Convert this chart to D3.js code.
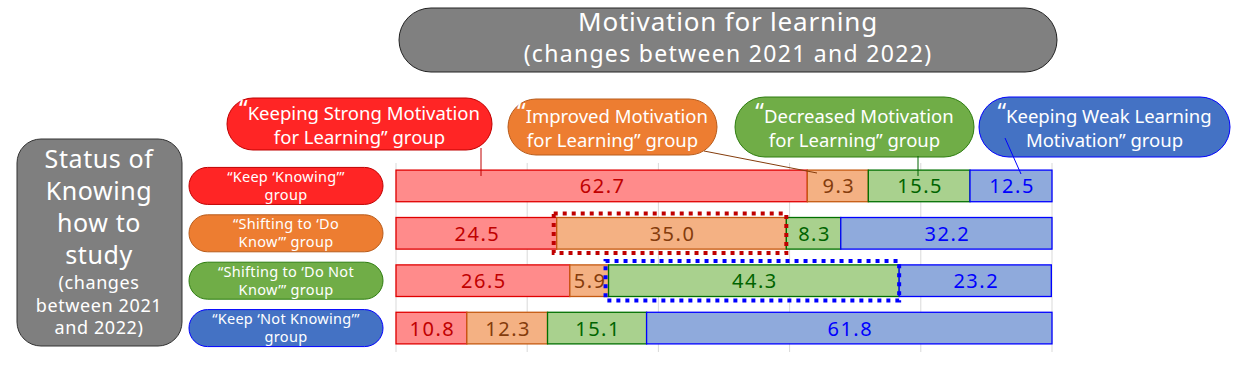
<!DOCTYPE html>
<meta charset="utf-8">
<head>
  <title>Motivation for learning</title>
</head>
<style>
body { margin: 0; background: #fff; }
svg text { font-family: "Noto Sans", sans-serif; }
.grid line { stroke: #d9d9d9; stroke-width: 1px; }
.seg { stroke-width: 1.3px; }
.val { font-size: 20px; letter-spacing: 1.5px; text-anchor: middle; dominant-baseline: central; }
</style>
<body>
  <svg width="1234" height="386"></svg>
  <script src="https://cdnjs.cloudflare.com/ajax/libs/d3/7.8.5/d3.min.js"></script>
  <script>
// categories (rows) -- status of knowing how to study
var rows = ["keep", "toDo", "toNot", "notKnow"];
var rowLabels = [
  ["\u201cKeep \u2018Knowing\u2019\u201d", "group"],
  ["\u201cShifting to \u2018Do", "Know\u2019\u201d group"],
  ["\u201cShifting to \u2018Do Not", "Know\u2019\u201d group"],
  ["\u201cKeep \u2018Not Knowing\u2019\u201d", "group"]
];

// series -- motivation for learning groups
var seriesKeys = ["strong", "improved", "decreased", "weak"];
var seriesLabels = [
  ["Keeping Strong Motivation", "for Learning\u201d group"],
  ["Improved Motivation", "for Learning\u201d group"],
  ["Decreased Motivation", "for Learning\u201d group"],
  ["Keeping Weak Learning", "Motivation\u201d group"]
];

// values in %, one per row
var strong    = [62.7, 24.5, 26.5, 10.8];
var improved  = [9.3, 35.0, 5.9, 12.3];
var decreased = [15.5, 8.3, 44.3, 15.1];
var weak      = [12.5, 32.2, 23.2, 61.8];

var xTicks = [0, 20, 40, 60, 80, 100];

// highlighted cells: [row index, series index, colour]
var highlights = [[1, 1, "#c00000"], [2, 2, "#0000ff"]];

var fills   = ["#ff8b8b", "#f4b183", "#a9d18e", "#8faadc"];
var strokes = ["#e00000", "#c55a11", "#007000", "#0000ff"];
var textCol = ["#c00000", "#843c0c", "#006400", "#0000ff"];
var pillFill   = ["#ff2525", "#ed7d31", "#70ad47", "#4472c4"];
var pillStroke = ["#c00000", "#b85c1c", "#2e7d10", "#0000ff"];

var table = rows.map(function(r, i) {
  return {row: r, strong: strong[i], improved: improved[i], decreased: decreased[i], weak: weak[i]};
});
var stacked = d3.stack().keys(seriesKeys)(table);

var svg = d3.select("svg");

var x = d3.scaleLinear().domain([0, 100]).range([396, 1052]);
var y = d3.scaleBand().domain(rows).range([163, 351]).paddingInner(0.333).paddingOuter(0.15);

// grid
svg.append("g").attr("class", "grid")
  .selectAll("line").data(xTicks).enter().append("line")
  .attr("x1", function(d) { return x(d); }).attr("x2", function(d) { return x(d); })
  .attr("y1", 163).attr("y2", 352);

// bars
var layer = svg.append("g").selectAll("g").data(stacked).enter().append("g");
layer.selectAll("rect").data(function(d) { return d; }).enter().append("rect")
  .attr("class", "seg")
  .attr("x", function(d) { return x(d[0]); })
  .attr("y", function(d) { return y(d.data.row); })
  .attr("width", function(d) { return x(d[1]) - x(d[0]); })
  .attr("height", y.bandwidth())
  .attr("fill", function(d) { return fills[seriesKeys.indexOf(d3.select(this.parentNode).datum().key)]; })
  .attr("stroke", function(d) { return strokes[seriesKeys.indexOf(d3.select(this.parentNode).datum().key)]; });

layer.selectAll("text").data(function(d) { return d; }).enter().append("text")
  .attr("class", "val")
  .attr("x", function(d) { return (x(d[0]) + x(d[1])) / 2 + 1; })
  .attr("y", function(d) { return y(d.data.row) + y.bandwidth() / 2; })
  .attr("fill", function(d) { return textCol[seriesKeys.indexOf(d3.select(this.parentNode).datum().key)]; })
  .text(function(d) { return (d[1] - d[0]).toFixed(1); });

// dotted highlight boxes
highlights.forEach(function(h) {
  var d = stacked[h[1]][h[0]];
  svg.append("rect")
    .attr("x", x(d[0]) - 3).attr("y", y(rows[h[0]]) - 4)
    .attr("width", x(d[1]) - x(d[0]) + 3).attr("height", y.bandwidth() + 8)
    .attr("fill", "none").attr("stroke", h[2])
    .attr("stroke-width", 4).attr("stroke-dasharray", "4,5");
});

// title pill
svg.append("rect").attr("x", 399).attr("y", 8).attr("width", 658).attr("height", 64)
  .attr("rx", 32).attr("fill", "#808080").attr("stroke", "#222").attr("stroke-width", 1);
svg.append("text").attr("x", 728).attr("y", 31).attr("text-anchor", "middle")
  .attr("fill", "#fff").attr("font-size", 26).attr("letter-spacing", 0.8).text("Motivation for learning");
svg.append("text").attr("x", 728).attr("y", 62).attr("text-anchor", "middle")
  .attr("fill", "#fff").attr("font-size", 23).attr("letter-spacing", 1.3).text("(changes between 2021 and 2022)");

// left box
svg.append("rect").attr("x", 17).attr("y", 139).attr("width", 165).attr("height", 207)
  .attr("rx", 24).attr("fill", "#7f7f7f").attr("stroke", "#333").attr("stroke-width", 1);
var leftLines = [["Status of", 168, 25], ["Knowing", 200, 25], ["how to", 232, 25], ["study", 264, 25],
  ["(changes", 289, 18], ["between 2021", 312, 18], ["and 2022)", 334, 18]];
svg.append("g").selectAll("text").data(leftLines).enter().append("text")
  .attr("x", 99).attr("y", function(d) { return d[1]; }).attr("text-anchor", "middle")
  .attr("fill", "#fff").attr("font-size", function(d) { return d[2]; })
  .attr("letter-spacing", 0.6).text(function(d) { return d[0]; });

// row label pills
var rowPill = svg.append("g").selectAll("g").data(rows).enter().append("g");
rowPill.append("rect")
  .attr("x", 189).attr("y", function(d) { return y(d) + y.bandwidth() / 2 - 18.5; })
  .attr("width", 194).attr("height", 37).attr("rx", 18.5)
  .attr("fill", function(d, i) { return pillFill[i]; })
  .attr("stroke", function(d, i) { return pillStroke[i]; });
rowPill.each(function(d, i) {
  var g = d3.select(this), cy = y(d) + y.bandwidth() / 2;
  rowLabels[i].forEach(function(t, j) {
    g.append("text").attr("x", 286).attr("y", cy - 4 + j * 18).attr("text-anchor", "middle")
      .attr("fill", "#fff").attr("font-size", 14.5).attr("letter-spacing", 0.3).text(t);
  });
});

// legend pills (series)
var legendBox = [[227, 98, 265, 52], [508, 99, 209, 56], [735, 97, 239, 60], [979, 97, 251, 60]];
var connectors = [[481, 148, 481, 176], [704, 151, 817, 173], [918, 156, 918, 176], [1005, 138, 1021, 174]];
seriesKeys.forEach(function(k, i) {
  var b = legendBox[i], c = connectors[i];
  svg.append("rect").attr("x", b[0]).attr("y", b[1]).attr("width", b[2]).attr("height", b[3])
    .attr("rx", b[3] / 2).attr("fill", pillFill[i]).attr("stroke", pillStroke[i]);
  var cx = b[0] + b[2] / 2, cy = b[1] + b[3] / 2;
  var t1 = svg.append("text").attr("x", cx).attr("y", cy - 4).attr("text-anchor", "middle")
    .attr("fill", "#fff").attr("font-size", 18.5);
  t1.append("tspan").attr("font-size", 24).attr("dy", -3).text("\u201c");
  t1.append("tspan").attr("dy", 3).text(seriesLabels[i][0]);
  svg.append("text").attr("x", cx).attr("y", cy + 20).attr("text-anchor", "middle")
    .attr("fill", "#fff").attr("font-size", 18.5).text(seriesLabels[i][1]);
  svg.append("line").attr("x1", c[0]).attr("y1", c[1]).attr("x2", c[2]).attr("y2", c[3])
    .attr("stroke", textCol[i]).attr("stroke-width", 1);
});
  </script>
</body>
